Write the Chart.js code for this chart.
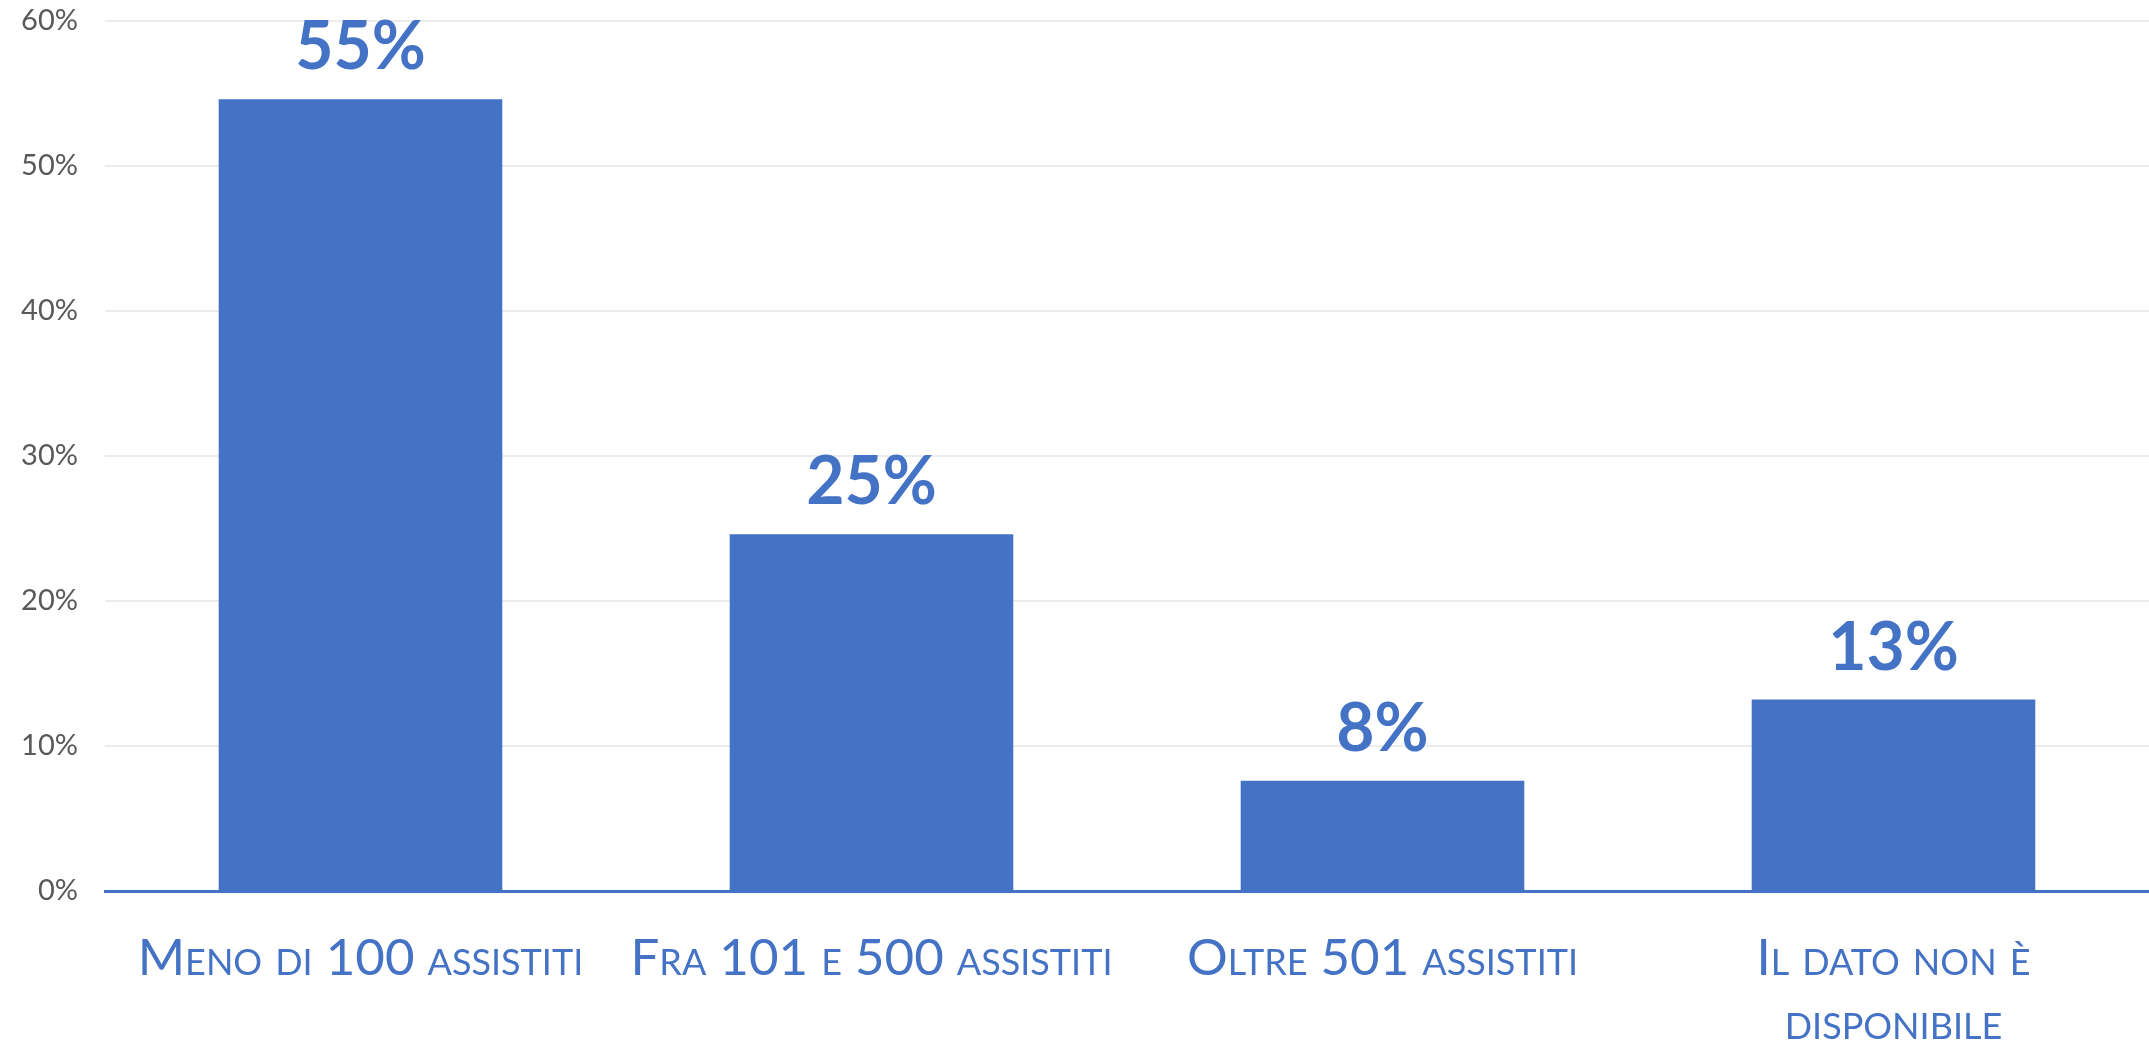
<!DOCTYPE html>
<html>
<head>
<meta charset="utf-8">
<script src="https://cdn.jsdelivr.net/npm/chart.js@4/dist/chart.umd.min.js"></script>
<style>
  html, body { margin: 0; padding: 0; background: #fff; }
  canvas { display: block; }
</style>
</head>
<body>
<canvas id="assistitiChart" width="2149" height="1042"></canvas>
<script>
// data
const categories = [
    "Meno di 100 assistiti",
    "Fra 101 e 500 assistiti",
    "Oltre 501 assistiti",
    ["Il dato non è", "disponibile"]
];
const shares = [54.6, 24.6, 7.6, 13.2];
const yTicks = [0, 10, 20, 30, 40, 50, 60];

const blue = "#4472C4";

// value labels above each bar
const barValueLabels = {
    id: "barValueLabels",
    afterDatasetsDraw(chart) {
        const ctx = chart.ctx;
        const meta = chart.getDatasetMeta(0);
        ctx.save();
        ctx.font = "bold 66px Lato";
        ctx.fillStyle = blue;
        ctx.textAlign = "center";
        ctx.textBaseline = "alphabetic";
        meta.data.forEach(function(bar, i) {
            ctx.fillText(Math.round(shares[i]) + "%", bar.x, bar.y - 30);
        });
        ctx.restore();
    }
};

new Chart(document.getElementById("assistitiChart"), {
    type: "bar",
    data: {
        labels: categories,
        datasets: [{
            data: shares,
            backgroundColor: blue,
            borderWidth: 0,
            barPercentage: 0.555,
            categoryPercentage: 1
        }]
    },
    options: {
        responsive: false,
        animation: false,
        layout: {
            padding: { top: 21, right: 0, bottom: 0, left: 0 }
        },
        plugins: {
            legend: { display: false },
            tooltip: { enabled: false }
        },
        scales: {
            x: {
                grid: { display: false },
                border: { display: true, color: blue, width: 3 },
                ticks: {
                    color: blue,
                    padding: 28,
                    // "small-caps" goes through the weight slot, Chart.js rejects it as a style
                    font: { family: "Lato", size: 51, weight: "small-caps 400", lineHeight: 1.255 },
                    maxRotation: 0,
                    autoSkip: false
                },
                afterFit: function(scale) { scale.height = 151; }
            },
            y: {
                min: 0,
                max: 60,
                border: { display: false },
                grid: {
                    drawTicks: false,
                    lineWidth: 2,
                    color: function(c) {
                        return c.tick && c.tick.value === 0 ? blue : "#ececec";
                    }
                },
                afterBuildTicks: function(scale) {
                    scale.ticks = yTicks.map(function(v) { return { value: v }; });
                },
                ticks: {
                    color: "#595959",
                    padding: 27,
                    font: { family: "Lato", size: 29 },
                    callback: function(v) { return v + "%"; }
                },
                afterFit: function(scale) {
                    scale.width = 105;
                    scale.paddingTop = 0;
                    scale.paddingBottom = 0;
                }
            }
        }
    },
    plugins: [barValueLabels]
});
</script>
</body>
</html>
